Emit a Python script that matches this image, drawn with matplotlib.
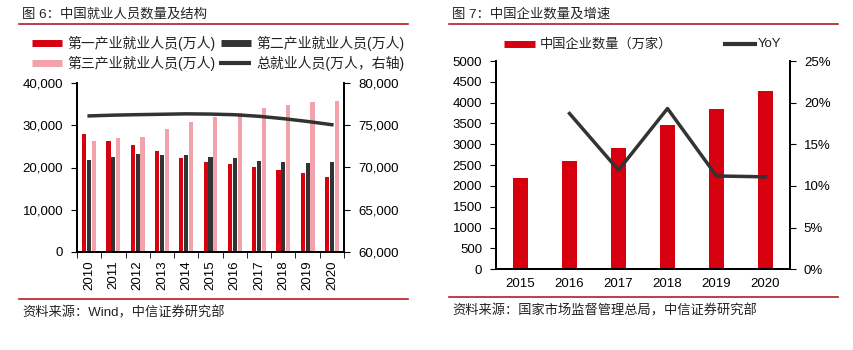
import matplotlib
matplotlib.use('Agg')
import matplotlib.pyplot as plt
from matplotlib.lines import Line2D
from matplotlib.ticker import FuncFormatter, MultipleLocator
import numpy as np

plt.rcParams['font.family'] = ['Liberation Sans', 'Noto Sans CJK SC', 'DejaVu Sans']

# left chart data (万人)
years_l = ['2010', '2011', '2012', '2013', '2014', '2015', '2016', '2017', '2018', '2019', '2020']
primary = [27900, 26300, 25400, 23800, 22300, 21400, 20900, 20100, 19500, 18700, 17700]
secondary = [21700, 22400, 23100, 22950, 22900, 22500, 22150, 21600, 21250, 21100, 21400]
tertiary = [26200, 27000, 27300, 29100, 30800, 32000, 32900, 34000, 34800, 35400, 35800]
total = [76105, 76196, 76254, 76301, 76349, 76320, 76245, 76058, 75782, 75447, 75064]

# right chart data
years_r = ['2015', '2016', '2017', '2018', '2019', '2020']
firms = [2180, 2590, 2900, 3460, 3850, 4290]
yoy = [np.nan, 18.7, 11.9, 19.3, 11.2, 11.1]

RED = '#d7000f'
DARK = '#333333'
PINK = '#f2a2aa'
LINE_RED = '#b81c22'
TXT = '#222222'

W, H = 854, 350
fig = plt.figure(figsize=(8.54, 3.5), dpi=100)


def fx(px):
    return px / W


def fy(py):
    return 1 - py / H


def legend_item(x0, x1, xt, y, color, lw, label, size=9.5):
    fig.add_artist(Line2D([fx(x0), fx(x1)], [fy(y)] * 2, color=color, lw=lw, solid_capstyle='butt'))
    fig.text(fx(xt), fy(y), label, fontsize=size, color=TXT, va='center')


# titles and separator lines
fig.text(fx(22), fy(14), '图 6：中国就业人员数量及结构', fontsize=9.6, color=TXT, va='center')
fig.text(fx(452), fy(14), '图 7：中国企业数量及增速', fontsize=9.6, color=TXT, va='center')
for x0, x1, y in [(19, 408, 24), (449, 838, 24), (19, 408, 299), (449, 838, 297)]:
    fig.add_artist(Line2D([fx(x0), fx(x1)], [fy(y)] * 2, color=LINE_RED, lw=1.2))
fig.text(fx(22), fy(313), '资料来源：Wind，中信证券研究部', fontsize=9.5, color=TXT, va='center')
fig.text(fx(452), fy(311), '资料来源：国家市场监督管理总局，中信证券研究部', fontsize=9.5, color=TXT, va='center')

# ---- left chart ----
ax = fig.add_axes([fx(77), fy(252), (344 - 77) / W, (252 - 83) / H])
x = np.arange(len(years_l))
w = 0.17
ax.bar(x - 0.2, primary, w, color=RED)
ax.bar(x, secondary, w, color=DARK)
ax.bar(x + 0.2, tertiary, w, color=PINK)
ax.set_ylim(0, 40000)
ax.set_xlim(-0.5, len(years_l) - 0.5)
ax.yaxis.set_major_locator(MultipleLocator(10000))
ax.yaxis.set_major_formatter(FuncFormatter(lambda v, p: f'{int(v):,}'))
ax.set_xticks(x)
ax.set_xticklabels(years_l, rotation=90)
ax.set_xticks(np.arange(-0.5, len(years_l), 1), minor=True)
ax.tick_params(axis='x', which='major', length=0, pad=6, labelsize=9.5)
ax.tick_params(axis='x', which='minor', length=4, direction='out')
ax.tick_params(axis='y', length=4, direction='out', labelsize=9.5, pad=6)
ax.spines['top'].set_visible(False)

ax2 = ax.twinx()
ax2.plot(x, total, color=DARK, lw=2.5)
ax2.set_ylim(60000, 80000)
ax2.yaxis.set_major_locator(MultipleLocator(5000))
ax2.yaxis.set_major_formatter(FuncFormatter(lambda v, p: f'{int(v):,}'))
ax2.tick_params(axis='y', length=4, direction='out', labelsize=9.5, pad=6)
ax2.spines['top'].set_visible(False)
for a in (ax, ax2):
    for s in a.spines.values():
        s.set_linewidth(1.3)

legend_item(32, 62, 67, 43, RED, 5, '第一产业就业人员(万人)', 10)
legend_item(221, 251, 256, 43, DARK, 5, '第二产业就业人员(万人)', 10)
legend_item(32, 62, 67, 63, PINK, 5, '第三产业就业人员(万人)', 10)
legend_item(219, 251, 256, 63, DARK, 3, '总就业人员(万人，右轴)', 10)

# ---- right chart ----
bx = fig.add_axes([fx(496), fy(269.3), (790 - 496) / W, (269.3 - 61) / H])
xr = np.arange(len(years_r))
bx.bar(xr, firms, 0.3, color=RED)
bx.set_ylim(0, 5000)
bx.set_xlim(-0.5, len(years_r) - 0.5)
bx.yaxis.set_major_locator(MultipleLocator(500))
bx.set_xticks(xr)
bx.set_xticklabels(years_r)
bx.tick_params(axis='x', length=0, pad=6, labelsize=9.5)
bx.tick_params(axis='y', length=4, direction='out', labelsize=9.5, pad=6)
bx.spines['top'].set_visible(False)

bx2 = bx.twinx()
bx2.plot(xr, yoy, color=DARK, lw=2.5)
bx2.set_ylim(0, 25)
bx2.yaxis.set_major_locator(MultipleLocator(5))
bx2.yaxis.set_major_formatter(FuncFormatter(lambda v, p: f'{int(v)}%'))
bx2.tick_params(axis='y', length=4, direction='out', labelsize=9.5, pad=6)
bx2.spines['top'].set_visible(False)
for a in (bx, bx2):
    for s in a.spines.values():
        s.set_linewidth(1.3)

legend_item(504, 535, 540, 44, RED, 5, '中国企业数量（万家）')
legend_item(723, 757, 758, 44, DARK, 3, 'YoY')

fig.savefig('out.png', dpi=100)
